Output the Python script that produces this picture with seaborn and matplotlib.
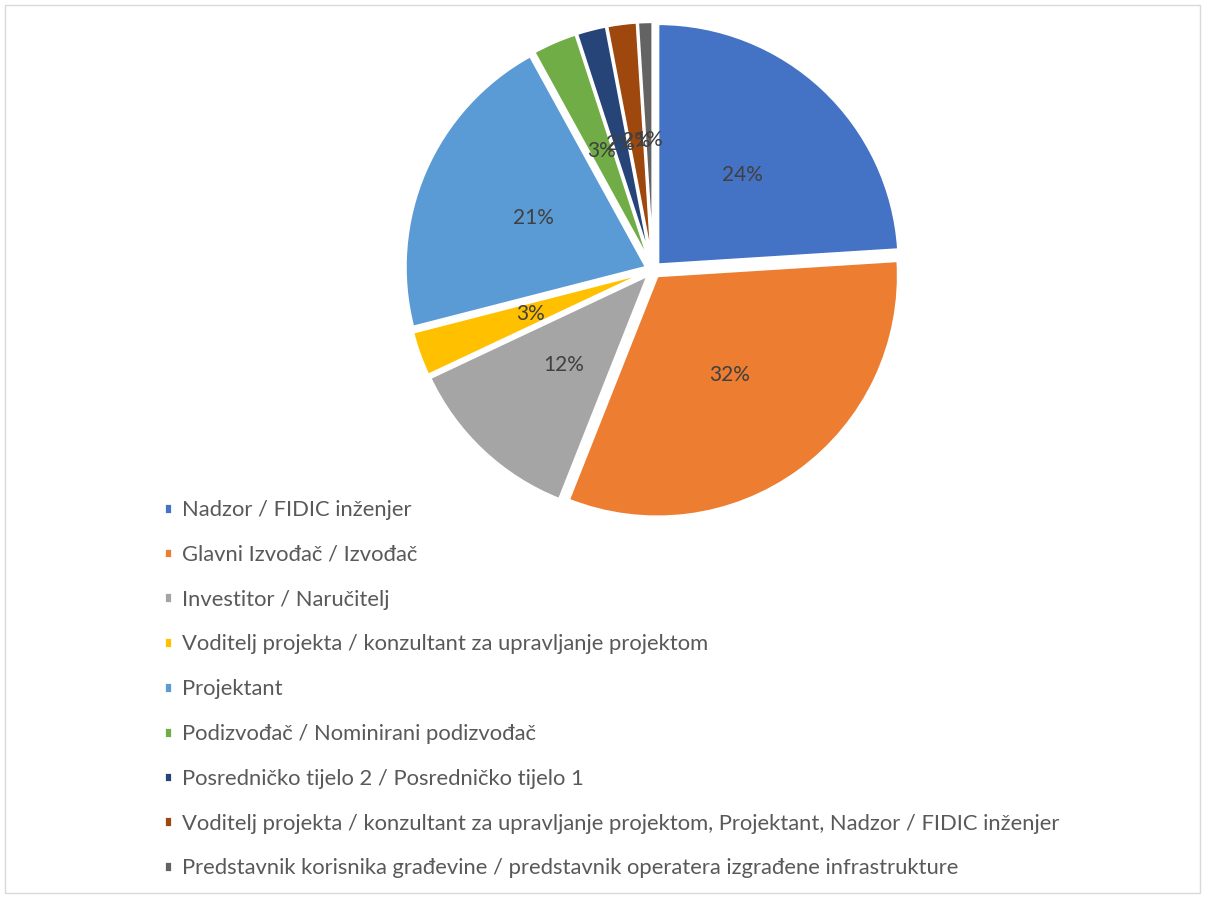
import matplotlib
matplotlib.use("Agg")
import matplotlib.pyplot as plt
import matplotlib.patches as mpatches
import seaborn as sns

categories = [
    "Nadzor / FIDIC inženjer",
    "Glavni Izvođač / Izvođač",
    "Investitor / Naručitelj",
    "Voditelj projekta / konzultant za upravljanje projektom",
    "Projektant",
    "Podizvođač / Nominirani podizvođač",
    "Posredničko tijelo 2 / Posredničko tijelo 1",
    "Voditelj projekta / konzultant za upravljanje projektom, Projektant, Nadzor / FIDIC inženjer",
    "Predstavnik korisnika građevine / predstavnik operatera izgrađene infrastrukture",
]
values = [24, 32, 12, 3, 21, 3, 2, 2, 1]
colors = ["#4472C4", "#ED7D31", "#A5A5A5", "#FFC000", "#5B9BD5",
          "#70AD47", "#264478", "#9E480E", "#636363"]

sns.set_theme(style="white")
plt.rcParams['font.family'] = ['Lato', 'DejaVu Sans']

W, H = 1205, 898
fig = plt.figure(figsize=(W / 100, H / 100), dpi=100)
fig.patch.set_facecolor("white")

# pie axes: center (653, 270) px, radius 241 px
cx, cy, r = 653, 270, 241
ax = fig.add_axes([(cx - r) / W, (H - cy - r) / H, 2 * r / W, 2 * r / H])
wedges, texts, autotexts = ax.pie(
    values, colors=colors, startangle=90, counterclock=False,
    explode=[0.03] * len(values),
    autopct=lambda p: f"{p:.0f}%", pctdistance=0.51,
    wedgeprops=dict(edgecolor="white", linewidth=2),
    textprops=dict(color="#404040", fontsize=15),
)
ax.set_xlim(-1, 1)
ax.set_ylim(-1, 1)
ax.set_aspect("equal")
ax.axis("off")

leg = fig.legend(
    wedges, categories, loc="upper left",
    bbox_to_anchor=(164 / W, 1 - 500 / H),
    frameon=False, fontsize=15.8, labelcolor="#595959",
    borderpad=0, borderaxespad=0,
    handlelength=0.38, handleheight=0.38, handletextpad=0.45,
    labelspacing=1.13,
)

fig.add_artist(mpatches.Rectangle((5 / W, 5 / H), 1 - 10 / W, 1 - 10 / H,
                                  transform=fig.transFigure, fill=False,
                                  edgecolor="#D9D9D9", linewidth=1))

fig.savefig("out.png", dpi=100)
